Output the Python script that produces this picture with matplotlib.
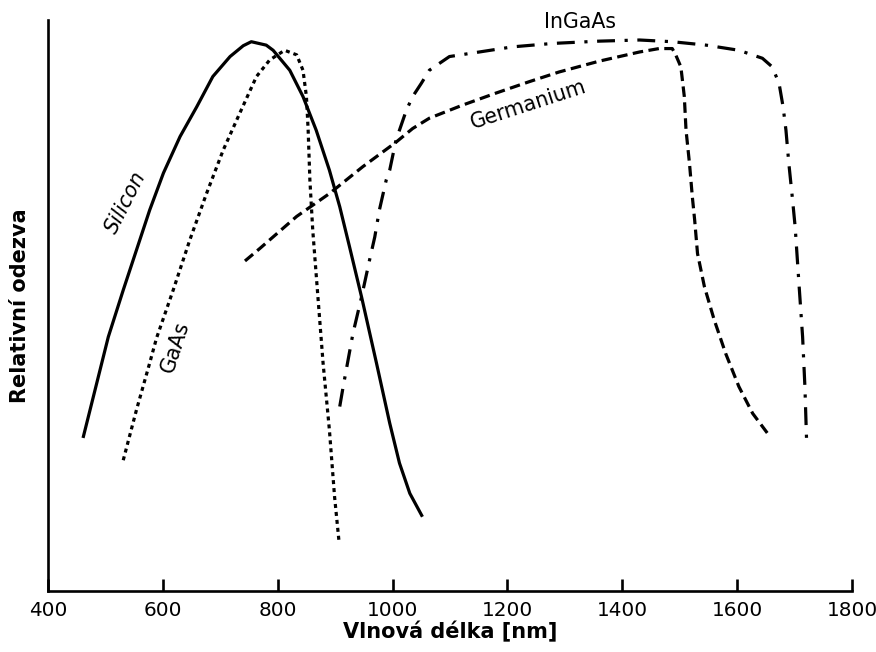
import matplotlib.pyplot as plt

# wavelength [nm] / relative response (0..1, arbitrary units)
si_x = [461, 505, 531, 554, 577, 601, 630, 659, 687, 717, 740, 754, 780, 792, 821, 844, 867, 890,
        908, 925, 946, 972, 995, 1012, 1030, 1052]
si_y = [0.268, 0.445, 0.527, 0.597, 0.667, 0.732, 0.796, 0.848, 0.901, 0.936, 0.955, 0.962, 0.956,
        0.947, 0.912, 0.866, 0.807, 0.737, 0.673, 0.603, 0.515, 0.399, 0.294, 0.224, 0.171, 0.130]

gaas_x = [531, 554, 577, 589, 618, 647, 676, 705, 734, 763, 786, 812, 833, 844, 850, 853, 856, 861,
          870, 879, 890, 899, 907]
gaas_y = [0.229, 0.317, 0.399, 0.443, 0.527, 0.615, 0.696, 0.772, 0.837, 0.901, 0.930, 0.947, 0.939,
          0.912, 0.866, 0.807, 0.720, 0.632, 0.515, 0.399, 0.282, 0.165, 0.084]

ge_x = [743, 769, 833, 890, 948, 1006, 1035, 1064, 1122, 1180, 1238, 1290, 1360, 1430, 1464, 1487,
        1493, 1502, 1508, 1511, 1517, 1522, 1526, 1531, 1543, 1560, 1580, 1603, 1627, 1653]
ge_y = [0.578, 0.600, 0.656, 0.696, 0.743, 0.786, 0.810, 0.828, 0.851, 0.872, 0.892, 0.909, 0.928,
        0.944, 0.950, 0.950, 0.939, 0.918, 0.866, 0.807, 0.749, 0.690, 0.650, 0.591, 0.533, 0.475,
        0.416, 0.358, 0.311, 0.276]

ingaas_x = [908, 914, 931, 946, 960, 969, 977, 989, 995, 1006, 1012, 1024, 1035, 1050, 1064, 1099,
            1151, 1209, 1279, 1360, 1430, 1487, 1546, 1603, 1644, 1661, 1673, 1680, 1685, 1690, 1696,
            1701, 1708, 1714, 1718, 1721]
ingaas_y = [0.323, 0.358, 0.451, 0.515, 0.580, 0.620, 0.667, 0.720, 0.737, 0.790, 0.807, 0.842, 0.866,
            0.889, 0.912, 0.936, 0.944, 0.953, 0.959, 0.963, 0.965, 0.962, 0.956, 0.947, 0.933, 0.918,
            0.889, 0.848, 0.807, 0.749, 0.690, 0.638, 0.533, 0.445, 0.358, 0.261]

xticks = [400, 600, 800, 1000, 1200, 1400, 1600, 1800]

fig = plt.figure(figsize=(8.76, 6.52), dpi=100)
ax = fig.add_axes([0.0548, 0.0936, 0.9178, 0.8757])

lw = 2.3
ax.plot(si_x, si_y, color='black', lw=lw, solid_capstyle='butt', solid_joinstyle='round')
ax.plot(gaas_x, gaas_y, color='black', lw=lw, linestyle=(0, (1.25, 1.25)), dash_capstyle='butt')
ax.plot(ge_x, ge_y, color='black', lw=lw, linestyle=(0, (3.3, 1.7)), dash_capstyle='butt')
ax.plot(ingaas_x, ingaas_y, color='black', lw=lw, linestyle=(0, (5.6, 3, 1, 3)), dash_capstyle='butt')

# curve labels
ax.text(535, 0.68, 'Silicon', fontsize=14.8, style='italic', rotation=63, ha='center', va='center')
ax.text(621, 0.428, 'GaAs', fontsize=14.8, rotation=72, ha='center', va='center')
ax.text(1237, 0.851, 'Germanium', fontsize=14.8, rotation=18, ha='center', va='center')
ax.text(1327, 0.996, 'InGaAs', fontsize=14.8, ha='center', va='center')

ax.set_xlim(400, 1800)
ax.set_ylim(0, 1)
ax.set_xticks(xticks)
ax.set_yticks([])
ax.tick_params(axis='x', direction='in', length=9, width=1.9, labelsize=14.4, pad=7)
for s in ['top', 'right']:
    ax.spines[s].set_visible(False)
for s in ['left', 'bottom']:
    ax.spines[s].set_linewidth(1.9)

ax.set_xlabel('Vlnová délka [nm]', fontsize=15, fontweight='bold', labelpad=1)
ax.set_ylabel('Relativní odezva', fontsize=15, fontweight='bold', labelpad=13)

fig.savefig('out.png', dpi=100)
